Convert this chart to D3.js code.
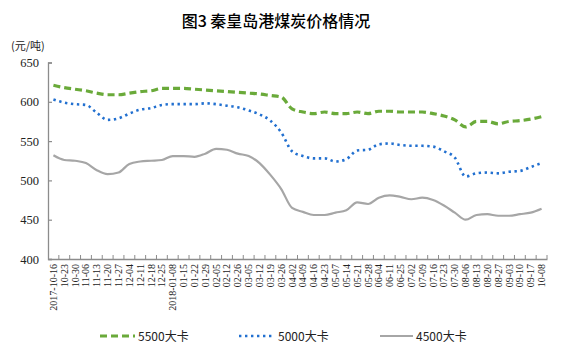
<!DOCTYPE html>
<html><head><meta charset="utf-8">
<script src="https://cdn.jsdelivr.net/npm/d3@7"></script>
<style>body{margin:0;background:#fff}svg{display:block}</style>
</head><body><svg id="c" width="561" height="357"></svg>
<script>
const categories = ["2017-10-16","10-23","10-30","11-06","11-13","11-20","11-27","12-04","12-11","12-18","12-25","2018-01-08","01-15","01-22","01-29","02-05","02-12","02-26","03-05","03-12","03-19","03-26","04-02","04-09","04-16","04-23","05-07","05-14","05-21","05-28","06-04","06-11","06-25","07-02","07-09","07-16","07-23","07-30","08-06","08-13","08-20","08-27","09-03","09-10","09-17","10-08"];
const s5500 = [621,618,616,614,611,609,609,611,613,614,617,617,617,616,615,614,613,612,611,610,608,606,591,587,585,587,585,585,587,585,588,588,587,587,587,585,582,577,568,575,575,572,575,576,578,581];
const s5000 = [603,599,597,596,586,577,579,585,590,592,596,597,597,597,598,597,595,593,589,584,576,561,537,531,528,528,524,527,538,539,546,547,545,544,544,543,537,529,505,509,510,509,511,512,517,522];
const s4500 = [532,526,525,522,513,508,510,521,524,525,526,531,531,530,534,540,539,534,531,522,507,489,465,460,456,456,459,462,472,470,478,481,479,476,478,475,468,459,450,456,457,455,455,457,459,464];
const yTicks = [400,450,500,550,600,650];
const seriesNames = ["5500大卡","5000大卡","4500大卡"];

const svg = d3.select("#c");
const m = {l:48, r:14, t:62.5, b:98};
const W = 561, H = 357;
const x = d3.scaleBand().domain(categories).range([m.l, W - m.r]);
const y = d3.scaleLinear().domain([400,650]).range([259, 62.5]);

const axisColor = "#8c8c8c";
// title
svg.append("text").attr("x", 276).attr("y", 27).attr("text-anchor","middle")
  .attr("font-family","'Noto Sans CJK SC'").attr("font-size",16).attr("font-weight",500).attr("fill","#000")
  .text("图3  秦皇岛港煤炭价格情况");
svg.append("text").attr("x", 11).attr("y", 50)
  .attr("font-family","'Noto Sans CJK SC'").attr("font-size",11).attr("fill","#222").text("(元/吨)");

// y axis
const ya = svg.append("g").attr("transform",`translate(${m.l},0)`)
  .call(d3.axisLeft(y).tickValues(yTicks).tickSize(-4).tickPadding(9));
ya.select(".domain").attr("stroke",axisColor).attr("stroke-width",1.3);
ya.selectAll(".tick line").attr("stroke",axisColor).attr("stroke-width",1.2);
ya.selectAll("text").attr("font-family","'Liberation Serif'").attr("font-size",12.5).attr("fill","#222");

// x axis
const xa = svg.append("g").attr("transform",`translate(0,259)`)
  .call(d3.axisBottom(x).tickSize(0).tickSizeOuter(0));
xa.select(".domain").attr("stroke",axisColor).attr("stroke-width",1.3);
xa.selectAll(".tick text")
  .attr("font-family","'Liberation Serif'").attr("font-size",10).attr("fill","#222")
  .attr("transform","rotate(-90)").attr("text-anchor","end").attr("dx","-5").attr("dy","0.35em").attr("x",0).attr("y",0);
// boundary ticks (inside)
svg.append("g").selectAll("line").data(categories.slice(1)).join("line")
  .attr("x1", d => x(d)).attr("x2", d => x(d)).attr("y1",259).attr("y2",255)
  .attr("stroke",axisColor).attr("stroke-width",1);
svg.append("line").attr("x1", W-m.r).attr("x2", W-m.r).attr("y1",259).attr("y2",255).attr("stroke",axisColor);

const cx = d => x(d) + x.bandwidth()/2;
const line = d3.line().x((d,i) => cx(categories[i])).y(d => y(d)).curve(d3.curveMonotoneX);
const styles = [
  {data:s5500, color:"#6aaa3a", width:3.2, dash:"7,4", cap:"butt"},
  {data:s5000, color:"#2270d0", width:2.6, dash:"2.4,3.6", cap:"butt"},
  {data:s4500, color:"#a6a6a6", width:2.2, dash:null, cap:"butt"}
];
styles.forEach(s => {
  svg.append("path").attr("d", line(s.data)).attr("fill","none")
    .attr("stroke", s.color).attr("stroke-width", s.width)
    .attr("stroke-dasharray", s.dash).attr("stroke-linecap", s.cap);
});

// legend
const lg = [{x1:100,x2:135,tx:138},{x1:239,x2:273,tx:278},{x1:380,x2:413,tx:416}];
lg.forEach((p,i) => {
  const s = styles[i];
  svg.append("line").attr("x1",p.x1).attr("x2",p.x2).attr("y1",336).attr("y2",336)
    .attr("stroke",s.color).attr("stroke-width",s.width).attr("stroke-dasharray",s.dash);
  svg.append("text").attr("x",p.tx).attr("y",340.5).attr("font-family","'Noto Sans CJK SC'")
    .attr("font-size",12).attr("fill","#222").text(seriesNames[i]);
});
</script></body></html>
